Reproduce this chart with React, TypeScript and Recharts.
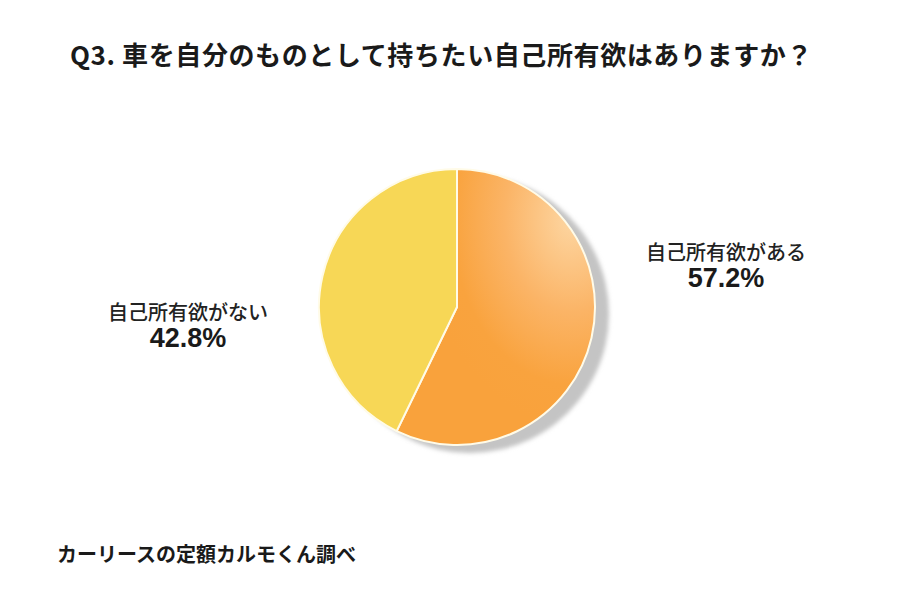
import { PieChart, Pie, Cell } from 'recharts';

const categories = ['自己所有欲がある', '自己所有欲がない'];
const shares = [57.2, 42.8];
const title = 'Q3. 車を自分のものとして持ちたい自己所有欲はありますか？';
const source = 'カーリースの定額カルモくん調べ';

const data = categories.map((name, i) => ({ name, value: shares[i] }));
const fills = ['url(#orangeGrad)', '#f7d756'];

const JP = '"Noto Sans CJK JP", "Noto Sans", sans-serif';

function renderLabel(props: any) {
  const { cx, cy, midAngle, name, value } = props;
  const right = Math.cos((midAngle * Math.PI) / 180) > 0;
  const x = right ? cx + 269 : cx - 269;
  const y = right ? cy - 56 : cy + 4;
  return (
    <g>
      <text x={x} y={y} textAnchor="middle" dominantBaseline="central"
        fontFamily={JP} fontWeight={500} fontSize={20} fill="#222">
        {name}
      </text>
      <text x={x} y={y + 27} textAnchor="middle" dominantBaseline="central"
        fontFamily='"Liberation Sans", Arial, sans-serif' fontWeight={700} fontSize={27} fill="#1a1a1a">
        {`${value.toFixed(1)}%`}
      </text>
    </g>
  );
}

export default function App() {
  return (
    <div style={{ position: 'absolute', left: 0, top: 0, width: 900, height: 600, background: '#fff' }}>
      <div style={{
        position: 'absolute', left: 70, top: 36, fontFamily: JP, fontWeight: 700,
        fontSize: 26, color: '#1a1a1a', whiteSpace: 'nowrap', lineHeight: '36px', letterSpacing: 0.6,
      }}>
        {title}
      </div>
      <PieChart width={900} height={600}>
        <defs>
          <radialGradient id="orangeGrad" cx="0.88" cy="0.18" r="0.75">
            <stop offset="0%" stopColor="#fdd6a2" />
            <stop offset="45%" stopColor="#fbb466" />
            <stop offset="80%" stopColor="#f9a33e" />
            <stop offset="100%" stopColor="#f9a23c" />
          </radialGradient>
          <filter id="shadowBlur" x="-20%" y="-20%" width="140%" height="140%">
            <feGaussianBlur stdDeviation="2" />
          </filter>
        </defs>
        <Pie
          data={data} dataKey="value" nameKey="name"
          cx={465} cy={309} outerRadius={139}
          startAngle={90} endAngle={-270}
          stroke="none" isAnimationActive={false}
          style={{ filter: 'url(#shadowBlur)' }}
        >
          {data.map((d) => <Cell key={d.name} fill="#c4c4c4" />)}
        </Pie>
        <Pie
          data={data} dataKey="value" nameKey="name"
          cx={452} cy={302} outerRadius={138}
          startAngle={90} endAngle={-270}
          stroke="#fffbe8" strokeWidth={2}
          label={renderLabel} labelLine={false}
          isAnimationActive={false}
        >
          {data.map((d, i) => <Cell key={d.name} fill={fills[i]} />)}
        </Pie>
      </PieChart>
      <div style={{
        position: 'absolute', left: 57, top: 540, fontFamily: JP, fontWeight: 700,
        fontSize: 20, color: '#1a1a1a', whiteSpace: 'nowrap', lineHeight: '28px',
      }}>
        {source}
      </div>
    </div>
  );
}
